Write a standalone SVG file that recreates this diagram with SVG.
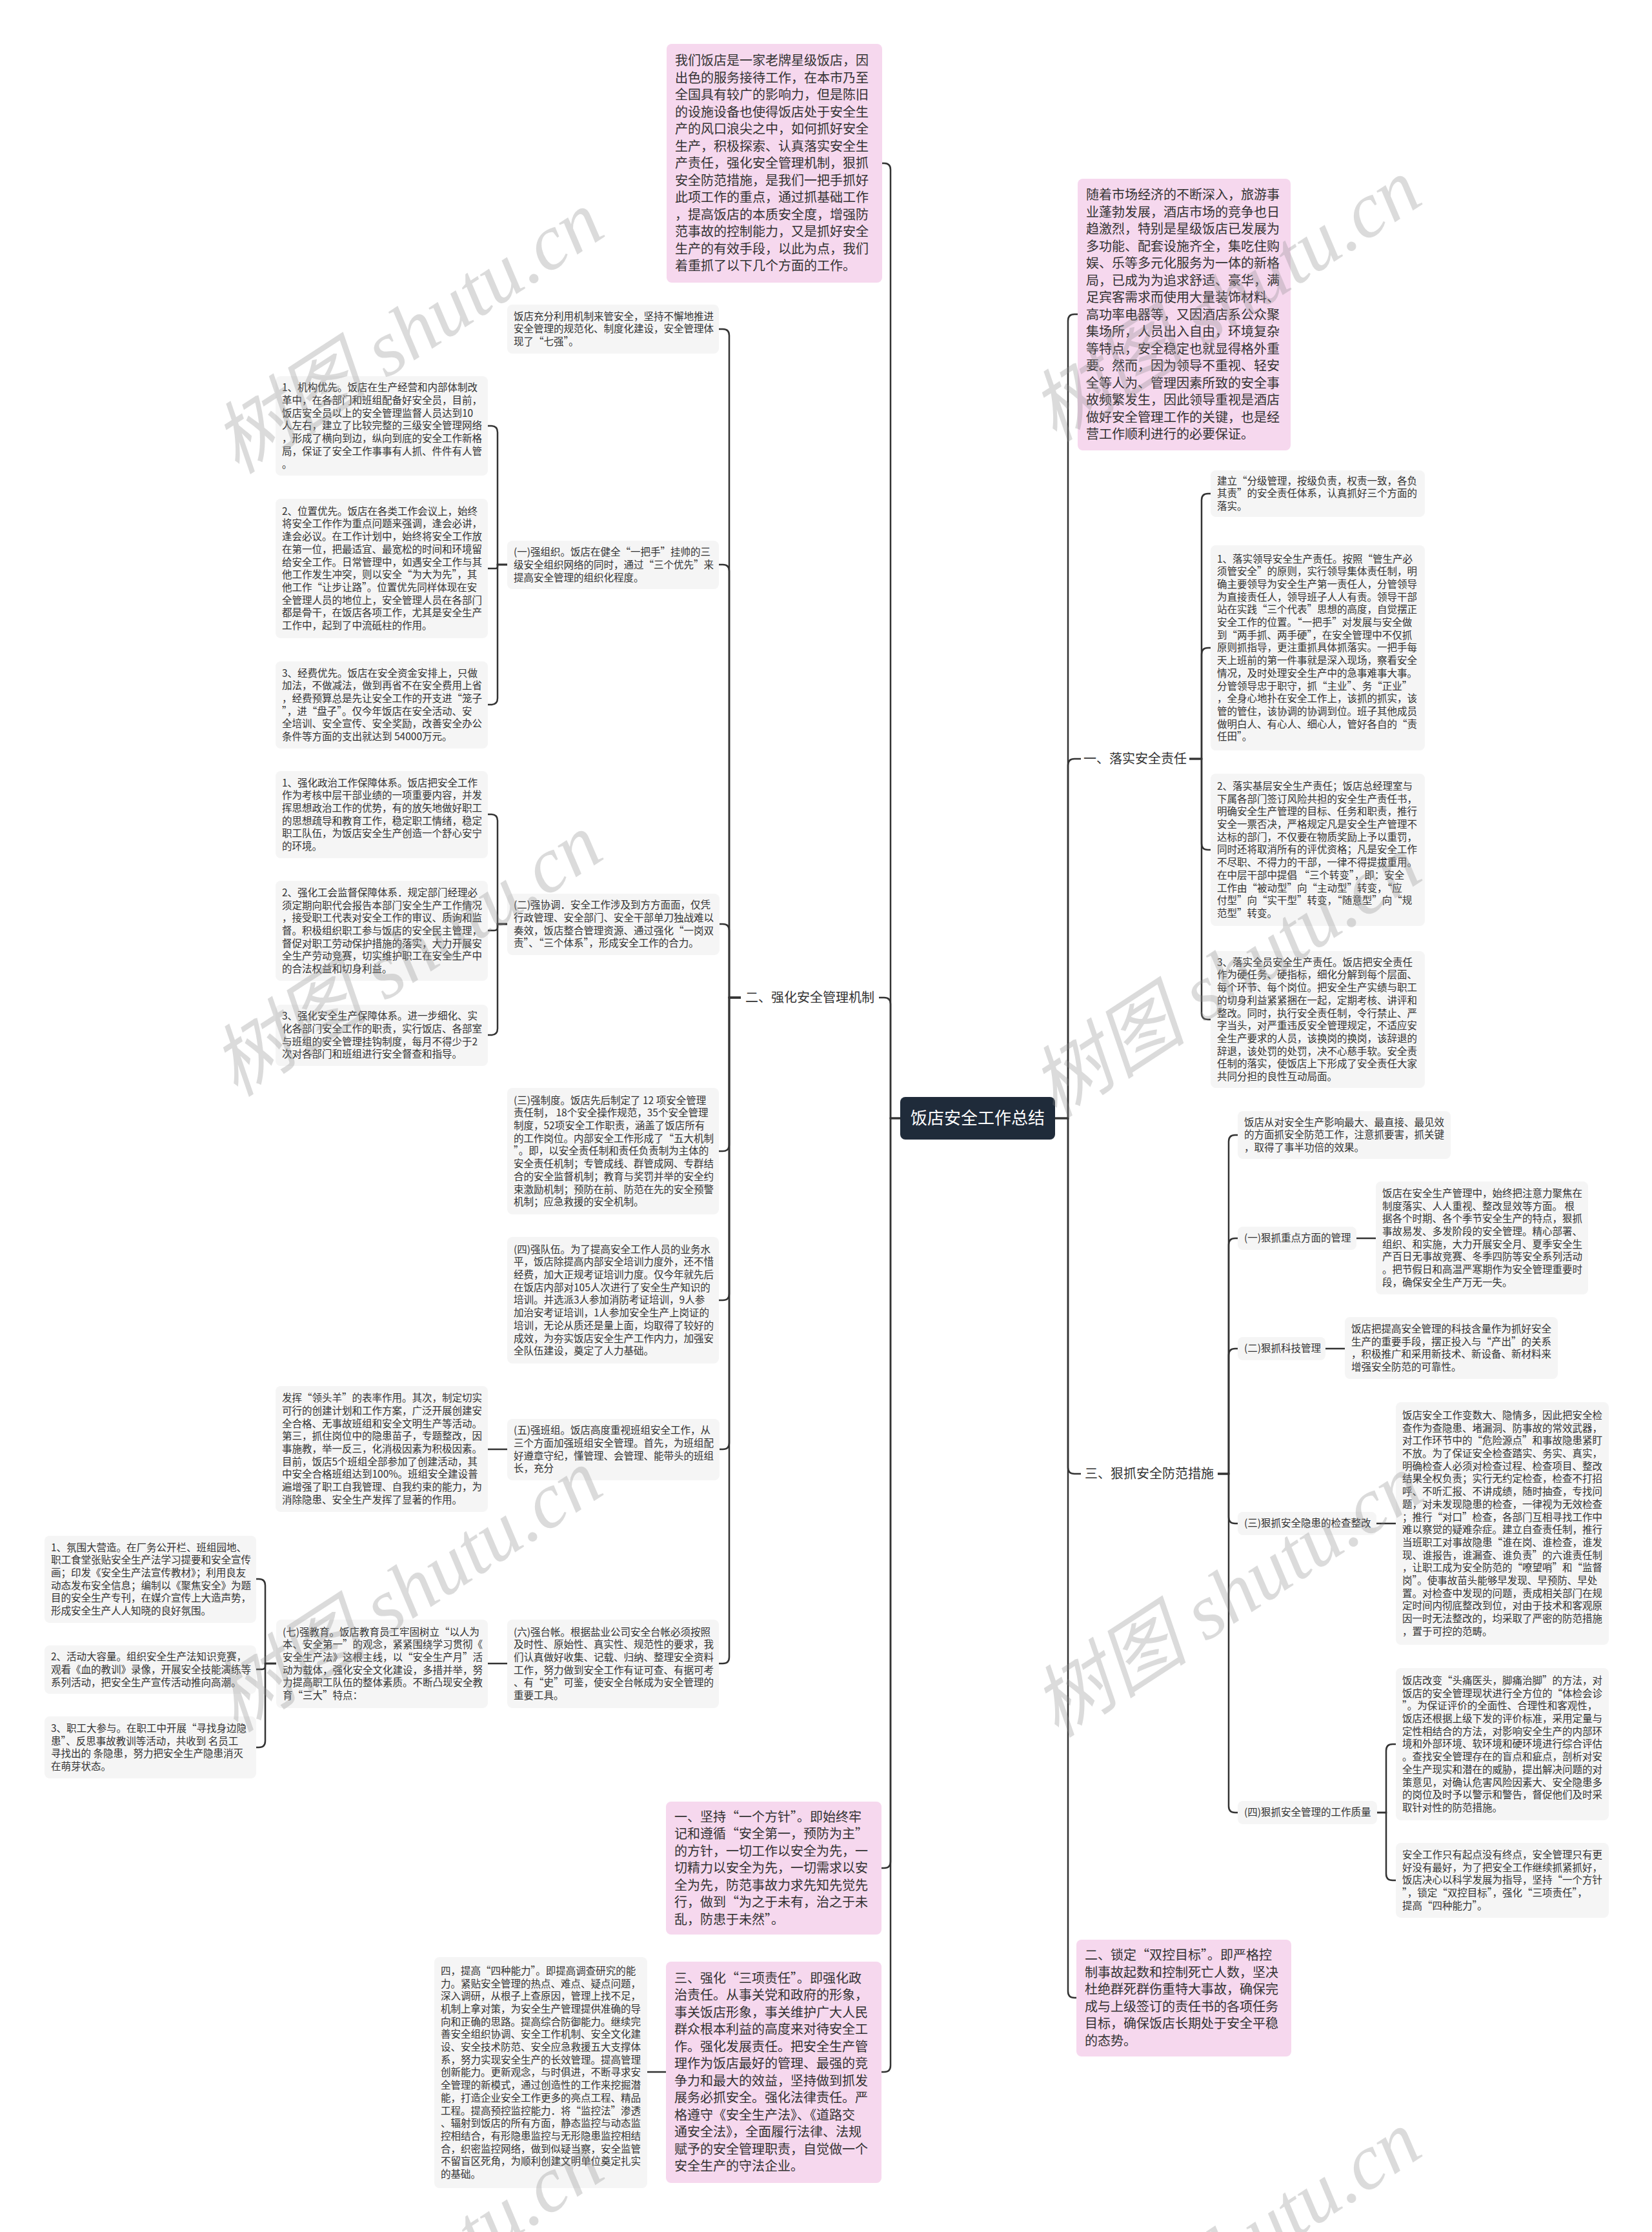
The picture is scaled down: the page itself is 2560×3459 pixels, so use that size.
<svg xmlns="http://www.w3.org/2000/svg" width="2560" height="3459" viewBox="0 0 2560 3459">
<style>
.bg{fill:#ffffff}
.g{fill:#f5f5f5}
.p{fill:#f6d8ee}
.c{fill:#1f2b3a}
.t{font-family:"Noto Sans CJK SC","Noto Sans",sans-serif;fill:#333333;font-size:15.5px}
.tp{font-family:"Noto Sans CJK SC","Noto Sans",sans-serif;fill:#333333;font-size:20px}
.tl{font-family:"Noto Sans CJK SC","Noto Sans",sans-serif;fill:#333333;font-size:20px}
.tc{font-family:"Noto Sans CJK SC","Noto Sans",sans-serif;fill:#ffffff;font-size:26px}
.conn path{fill:none;stroke:#333333;stroke-width:2.5}
.wm{font-family:"Liberation Serif","Noto Sans CJK SC",serif;font-size:122px;fill:#8c8c8c;opacity:0.3;font-style:italic}
</style>
<rect class="bg" x="0" y="0" width="2560" height="3459"/>

<g id="connectors" class="conn">
<path d="M1635,1733 H1655 V497 Q1655,487 1665,487 H1670"/>
<path d="M1635,1733 H1655 V1186 Q1655,1176 1665,1176 H1675"/>
<path d="M1635,1733 H1655 V2274 Q1655,2284 1665,2284 H1675"/>
<path d="M1635,1733 H1655 V3086 Q1655,3096 1665,3096 H1668"/>
<path d="M1843,1176 H1862 V775 Q1862,765 1872,765 H1876"/>
<path d="M1843,1176 H1862 V1014 Q1862,1004 1872,1004 H1876"/>
<path d="M1843,1176 H1862 V1307 Q1862,1317 1872,1317 H1876"/>
<path d="M1843,1176 H1862 V1570 Q1862,1580 1872,1580 H1876"/>
<path d="M1887,2284 H1904 V1769 Q1904,1759 1914,1759 H1918"/>
<path d="M1887,2284 H1904 V1929 Q1904,1919 1914,1919 H1918"/>
<path d="M1887,2284 H1904 V2100 Q1904,2090 1914,2090 H1918"/>
<path d="M1887,2284 H1904 V2351 Q1904,2361 1914,2361 H1918"/>
<path d="M1887,2284 H1904 V2799 Q1904,2809 1914,2809 H1918"/>
<path d="M2102,1919 H2132"/>
<path d="M2054,2090 H2084"/>
<path d="M2133,2361 H2163"/>
<path d="M2134,2809 H2148 V2713 Q2148,2703 2158,2703 H2163"/>
<path d="M2134,2809 H2148 V2904 Q2148,2914 2158,2914 H2163"/>
<path d="M1395,1733 H1380 V263 Q1380,253 1370,253 H1367"/>
<path d="M1395,1733 H1380 V1556 Q1380,1546 1370,1546 H1362"/>
<path d="M1395,1733 H1380 V2885 Q1380,2895 1370,2895 H1366"/>
<path d="M1395,1733 H1380 V3201 Q1380,3211 1370,3211 H1366"/>
<path d="M1148,1546 H1130 V520 Q1130,510 1120,510 H1114"/>
<path d="M1148,1546 H1130 V885 Q1130,875 1120,875 H1114"/>
<path d="M1148,1546 H1130 V1442 Q1130,1432 1120,1432 H1115"/>
<path d="M1148,1546 H1130 V1774 Q1130,1784 1120,1784 H1114"/>
<path d="M1148,1546 H1130 V2005 Q1130,2015 1120,2015 H1114"/>
<path d="M1148,1546 H1130 V2236 Q1130,2246 1120,2246 H1115"/>
<path d="M1148,1546 H1130 V2568 Q1130,2578 1120,2578 H1114"/>
<path d="M786,875 H771 V670 Q771,660 761,660 H756"/>
<path d="M786,875 H771 V878 Q771,881 768,881 H756"/>
<path d="M786,875 H771 V1082 Q771,1092 761,1092 H756"/>
<path d="M786,1432 H771 V1272 Q771,1262 761,1262 H756"/>
<path d="M786,1432 H771 V1437 Q771,1442 766,1442 H756"/>
<path d="M786,1432 H771 V1594 Q771,1604 761,1604 H756"/>
<path d="M786,2246 H756"/>
<path d="M786,2578 H756"/>
<path d="M428,2578 H411 V2457 Q411,2447 401,2447 H397"/>
<path d="M428,2578 H411 V2582 Q411,2587 406,2587 H397"/>
<path d="M428,2578 H411 V2698 Q411,2708 401,2708 H397"/>
<path d="M1032,3211 H1003"/>
</g>

<g id="center">
<rect class="c" x="1395" y="1700" width="240" height="66" rx="8"/>
<text class="tc" x="1515" y="1742" text-anchor="middle">饭店安全工作总结</text>
</g>

<g id="intro-left">
<rect class="p" x="1033" y="68" width="334" height="370" rx="8"/>
<text class="tp" x="1046" y="101"><tspan x="1046" dy="0">我们饭店是一家老牌星级饭店，因</tspan><tspan x="1046" dy="26.5">出色的服务接待工作，在本市乃至</tspan><tspan x="1046" dy="26.5">全国具有较广的影响力，但是陈旧</tspan><tspan x="1046" dy="26.5">的设施设备也使得饭店处于安全生</tspan><tspan x="1046" dy="26.5">产的风口浪尖之中，如何抓好安全</tspan><tspan x="1046" dy="26.5">生产，积极探索、认真落实安全生</tspan><tspan x="1046" dy="26.5">产责任，强化安全管理机制，狠抓</tspan><tspan x="1046" dy="26.5">安全防范措施，是我们一把手抓好</tspan><tspan x="1046" dy="26.5">此项工作的重点，通过抓基础工作</tspan><tspan x="1046" dy="26.5">，提高饭店的本质安全度，增强防</tspan><tspan x="1046" dy="26.5">范事故的控制能力，又是抓好安全</tspan><tspan x="1046" dy="26.5">生产的有效手段，以此为点，我们</tspan><tspan x="1046" dy="26.5">着重抓了以下几个方面的工作。</tspan></text>
</g>

<g id="intro-right">
<rect class="p" x="1670" y="277" width="330" height="421" rx="8"/>
<text class="tp" x="1683" y="309"><tspan x="1683" dy="0">随着市场经济的不断深入，旅游事</tspan><tspan x="1683" dy="26.5">业蓬勃发展，酒店市场的竞争也日</tspan><tspan x="1683" dy="26.5">趋激烈，特别是星级饭店已发展为</tspan><tspan x="1683" dy="26.5">多功能、配套设施齐全，集吃住购</tspan><tspan x="1683" dy="26.5">娱、乐等多元化服务为一体的新格</tspan><tspan x="1683" dy="26.5">局，已成为为追求舒适、豪华，满</tspan><tspan x="1683" dy="26.5">足宾客需求而使用大量装饰材料、</tspan><tspan x="1683" dy="26.5">高功率电器等，又因酒店系公众聚</tspan><tspan x="1683" dy="26.5">集场所，人员出入自由，环境复杂</tspan><tspan x="1683" dy="26.5">等特点，安全稳定也就显得格外重</tspan><tspan x="1683" dy="26.5">要。然而，因为领导不重视、轻安</tspan><tspan x="1683" dy="26.5">全等人为、管理因素所致的安全事</tspan><tspan x="1683" dy="26.5">故频繁发生，因此领导重视是酒店</tspan><tspan x="1683" dy="26.5">做好安全管理工作的关键，也是经</tspan><tspan x="1683" dy="26.5">营工作顺利进行的必要保证。</tspan></text>
</g>

<g id="branch-2">
<text class="tl" x="1255" y="1553" text-anchor="middle">二、强化安全管理机制</text>
</g>
<g id="branch-1">
<text class="tl" x="1759" y="1183" text-anchor="middle">一、落实安全责任</text>
</g>
<g id="branch-3">
<text class="tl" x="1781" y="2291" text-anchor="middle">三、狠抓安全防范措施</text>
</g>

<g id="m0">
<rect class="g" x="786" y="472" width="328" height="76" rx="8"/>
<text class="t" x="796" y="495.7"><tspan x="796" dy="0">饭店充分利用机制来管安全，坚持不懈地推进</tspan><tspan x="796" dy="19.7">安全管理的规范化、制度化建设，安全管理体</tspan><tspan x="796" dy="19.7">现了“七强”。</tspan></text>
</g>

<g id="m1">
<rect class="g" x="786" y="838" width="328" height="75" rx="8"/>
<text class="t" x="796" y="861.2"><tspan x="796" dy="0">(一)强组织。饭店在健全“一把手”挂帅的三</tspan><tspan x="796" dy="19.7">级安全组织网络的同时，通过“三个优先”来</tspan><tspan x="796" dy="19.7">提高安全管理的组织化程度。</tspan></text>
</g>

<g id="d1">
<rect class="g" x="427" y="583" width="329" height="154" rx="8"/>
<text class="t" x="437" y="606.3"><tspan x="437" dy="0">1、机构优先。饭店在生产经营和内部体制改</tspan><tspan x="437" dy="19.7">革中，在各部门和班组配备好安全员，目前，</tspan><tspan x="437" dy="19.7">饭店安全员以上的安全管理监督人员达到10</tspan><tspan x="437" dy="19.7">人左右，建立了比较完整的三级安全管理网络</tspan><tspan x="437" dy="19.7">，形成了横向到边，纵向到底的安全工作新格</tspan><tspan x="437" dy="19.7">局，保证了安全工作事事有人抓、件件有人管</tspan><tspan x="437" dy="19.7">。</tspan></text>
</g>

<g id="d2">
<rect class="g" x="427" y="773" width="329" height="216" rx="8"/>
<text class="t" x="437" y="797.75"><tspan x="437" dy="0">2、位置优先。饭店在各类工作会议上，始终</tspan><tspan x="437" dy="19.7">将安全工作作为重点问题来强调，逢会必讲，</tspan><tspan x="437" dy="19.7">逢会必议。在工作计划中，始终将安全工作放</tspan><tspan x="437" dy="19.7">在第一位，把最适宜、最宽松的时间和环境留</tspan><tspan x="437" dy="19.7">给安全工作。日常管理中，如遇安全工作与其</tspan><tspan x="437" dy="19.7">他工作发生冲突，则以安全“为大为先”，其</tspan><tspan x="437" dy="19.7">他工作“让步让路”。位置优先同样体现在安</tspan><tspan x="437" dy="19.7">全管理人员的地位上，安全管理人员在各部门</tspan><tspan x="437" dy="19.7">都是骨干，在饭店各项工作，尤其是安全生产</tspan><tspan x="437" dy="19.7">工作中，起到了中流砥柱的作用。</tspan></text>
</g>

<g id="d3">
<rect class="g" x="427" y="1025" width="329" height="135" rx="8"/>
<text class="t" x="437" y="1048.65"><tspan x="437" dy="0">3、经费优先。饭店在安全资金安排上，只做</tspan><tspan x="437" dy="19.7">加法，不做减法，做到再省不在安全费用上省</tspan><tspan x="437" dy="19.7">，经费预算总是先让安全工作的开支进“笼子</tspan><tspan x="437" dy="19.7">”，进“盘子”。仅今年饭店在安全活动、安</tspan><tspan x="437" dy="19.7">全培训、安全宣传、安全奖励，改善安全办公</tspan><tspan x="437" dy="19.7">条件等方面的支出就达到 54000万元。</tspan></text>
</g>

<g id="m2">
<rect class="g" x="786" y="1385" width="329" height="95" rx="8"/>
<text class="t" x="796" y="1408.35"><tspan x="796" dy="0">(二)强协调．安全工作涉及到方方面面，仅凭</tspan><tspan x="796" dy="19.7">行政管理、安全部门、安全干部单刀独战难以</tspan><tspan x="796" dy="19.7">奏效，饭店整合管理资源、通过强化“一岗双</tspan><tspan x="796" dy="19.7">责”、“三个体系”，形成安全工作的合力。</tspan></text>
</g>

<g id="h1">
<rect class="g" x="427" y="1195" width="329" height="135" rx="8"/>
<text class="t" x="437" y="1218.65"><tspan x="437" dy="0">1、强化政治工作保障体系。饭店把安全工作</tspan><tspan x="437" dy="19.7">作为考核中层干部业绩的一项重要内容，并发</tspan><tspan x="437" dy="19.7">挥思想政治工作的优势，有的放矢地做好职工</tspan><tspan x="437" dy="19.7">的思想疏导和教育工作，稳定职工情绪，稳定</tspan><tspan x="437" dy="19.7">职工队伍，为饭店安全生产创造一个舒心安宁</tspan><tspan x="437" dy="19.7">的环境。</tspan></text>
</g>

<g id="h2">
<rect class="g" x="427" y="1365" width="329" height="155" rx="8"/>
<text class="t" x="437" y="1388.8"><tspan x="437" dy="0">2、强化工会监督保障体系．规定部门经理必</tspan><tspan x="437" dy="19.7">须定期向职代会报告本部门安全生产工作情况</tspan><tspan x="437" dy="19.7">，接受职工代表对安全工作的审议、质询和监</tspan><tspan x="437" dy="19.7">督。积极组织职工参与饭店的安全民主管理，</tspan><tspan x="437" dy="19.7">督促对职工劳动保护措施的落实，大力开展安</tspan><tspan x="437" dy="19.7">全生产劳动竞赛，切实维护职工在安全生产中</tspan><tspan x="437" dy="19.7">的合法权益和切身利益。</tspan></text>
</g>

<g id="h3">
<rect class="g" x="427" y="1557" width="329" height="95" rx="8"/>
<text class="t" x="437" y="1580.35"><tspan x="437" dy="0">3、强化安全生产保障体系。进一步细化、实</tspan><tspan x="437" dy="19.7">化各部门安全工作的职责，实行饭店、各部室</tspan><tspan x="437" dy="19.7">与班组的安全管理挂钩制度，每月不得少于2</tspan><tspan x="437" dy="19.7">次对各部门和班组进行安全督查和指导。</tspan></text>
</g>

<g id="m3">
<rect class="g" x="786" y="1686" width="328" height="196" rx="8"/>
<text class="t" x="796" y="1710.6"><tspan x="796" dy="0">(三)强制度。饭店先后制定了 12 项安全管理</tspan><tspan x="796" dy="19.7">责任制， 18个安全操作规范，35个安全管理</tspan><tspan x="796" dy="19.7">制度，52项安全工作职责，涵盖了饭店所有</tspan><tspan x="796" dy="19.7">的工作岗位。内部安全工作形成了“五大机制</tspan><tspan x="796" dy="19.7">”。即，以安全责任制和责任负责制为主体的</tspan><tspan x="796" dy="19.7">安全责任机制；专管成线、群管成网、专群结</tspan><tspan x="796" dy="19.7">合的安全监督机制；教育与奖罚并举的安全约</tspan><tspan x="796" dy="19.7">束激励机制；预防在前、防范在先的安全预警</tspan><tspan x="796" dy="19.7">机制；应急救援的安全机制。</tspan></text>
</g>

<g id="m4">
<rect class="g" x="786" y="1917" width="328" height="196" rx="8"/>
<text class="t" x="796" y="1941.6"><tspan x="796" dy="0">(四)强队伍。为了提高安全工作人员的业务水</tspan><tspan x="796" dy="19.7">平，饭店除提高内部安全培训力度外，还不惜</tspan><tspan x="796" dy="19.7">经费，加大正规考证培训力度。仅今年就先后</tspan><tspan x="796" dy="19.7">在饭店内部对105人次进行了安全生产知识的</tspan><tspan x="796" dy="19.7">培训。并选派3人参加消防考证培训，9人参</tspan><tspan x="796" dy="19.7">加治安考证培训，1人参加安全生产上岗证的</tspan><tspan x="796" dy="19.7">培训，无论从质还是量上面，均取得了较好的</tspan><tspan x="796" dy="19.7">成效，为夯实饭店安全生产工作内力，加强安</tspan><tspan x="796" dy="19.7">全队伍建设，奠定了人力基础。</tspan></text>
</g>

<g id="m5">
<rect class="g" x="786" y="2199" width="329" height="95" rx="8"/>
<text class="t" x="796" y="2222.35"><tspan x="796" dy="0">(五)强班组。饭店高度重视班组安全工作，从</tspan><tspan x="796" dy="19.7">三个方面加强班组安全管理。首先，为班组配</tspan><tspan x="796" dy="19.7">好遵章守纪，懂管理、会管理、能带头的班组</tspan><tspan x="796" dy="19.7">长，充分</tspan></text>
</g>

<g id="k1">
<rect class="g" x="427" y="2148" width="329" height="195" rx="8"/>
<text class="t" x="437" y="2172.1"><tspan x="437" dy="0">发挥“领头羊”的表率作用。其次，制定切实</tspan><tspan x="437" dy="19.7">可行的创建计划和工作方案，广泛开展创建安</tspan><tspan x="437" dy="19.7">全合格、无事故班组和安全文明生产等活动。</tspan><tspan x="437" dy="19.7">第三，抓住岗位中的隐患苗子，专题整改，因</tspan><tspan x="437" dy="19.7">事施教，举一反三，化消极因素为积极因素。</tspan><tspan x="437" dy="19.7">目前，饭店5个班组全部参加了创建活动，其</tspan><tspan x="437" dy="19.7">中安全合格班组达到100%。班组安全建设普</tspan><tspan x="437" dy="19.7">遍增强了职工自我管理、自我约束的能力，为</tspan><tspan x="437" dy="19.7">消除隐患、安全生产发挥了显著的作用。</tspan></text>
</g>

<g id="m6">
<rect class="g" x="786" y="2510" width="328" height="137" rx="8"/>
<text class="t" x="796" y="2534.65"><tspan x="796" dy="0">(六)强台帐。根据盐业公司安全台帐必须按照</tspan><tspan x="796" dy="19.7">及时性、原始性、真实性、规范性的要求，我</tspan><tspan x="796" dy="19.7">们认真做好收集、记载、归纳、整理安全资料</tspan><tspan x="796" dy="19.7">工作，努力做到安全工作有证可查、有据可考</tspan><tspan x="796" dy="19.7">、有“史”可鉴，使安全台帐成为安全管理的</tspan><tspan x="796" dy="19.7">重要工具。</tspan></text>
</g>

<g id="m7">
<rect class="g" x="428" y="2510" width="328" height="137" rx="8"/>
<text class="t" x="438" y="2534.65"><tspan x="438" dy="0">(七)强教育。饭店教育员工牢固树立“以人为</tspan><tspan x="438" dy="19.7">本、安全第一”的观念，紧紧围绕学习贯彻《</tspan><tspan x="438" dy="19.7">安全生产法》这根主线，以“安全生产月”活</tspan><tspan x="438" dy="19.7">动为载体，强化安全文化建设，多措并举，努</tspan><tspan x="438" dy="19.7">力提高职工队伍的整体素质。不断凸现安全教</tspan><tspan x="438" dy="19.7">育“三大”特点：</tspan></text>
</g>

<g id="e1">
<rect class="g" x="69" y="2380" width="328" height="135" rx="8"/>
<text class="t" x="79" y="2403.65"><tspan x="79" dy="0">1、氛围大营造。在厂务公开栏、班组园地、</tspan><tspan x="79" dy="19.7">职工食堂张贴安全生产法学习提要和安全宣传</tspan><tspan x="79" dy="19.7">画；印发《安全生产法宣传教材》；利用良友</tspan><tspan x="79" dy="19.7">动态发布安全信息；编制以《聚焦安全》为题</tspan><tspan x="79" dy="19.7">目的安全生产专刊，在媒介宣传上大造声势，</tspan><tspan x="79" dy="19.7">形成安全生产人人知晓的良好氛围。</tspan></text>
</g>

<g id="e2">
<rect class="g" x="69" y="2550" width="328" height="75" rx="8"/>
<text class="t" x="79" y="2573.2"><tspan x="79" dy="0">2、活动大容量。组织安全生产法知识竞赛，</tspan><tspan x="79" dy="19.7">观看《血的教训》录像，开展安全技能演练等</tspan><tspan x="79" dy="19.7">系列活动，把安全生产宣传活动推向高潮。</tspan></text>
</g>

<g id="e3">
<rect class="g" x="69" y="2660" width="328" height="96" rx="8"/>
<text class="t" x="79" y="2683.85"><tspan x="79" dy="0">3、职工大参与。在职工中开展“寻找身边隐</tspan><tspan x="79" dy="19.7">患”、反思事故教训等活动，共收到  名员工</tspan><tspan x="79" dy="19.7">寻找出的  条隐患，努力把安全生产隐患消灭</tspan><tspan x="79" dy="19.7">在萌芽状态。</tspan></text>
</g>

<g id="principle-1">
<rect class="p" x="1032" y="2792" width="334" height="206" rx="8"/>
<text class="tp" x="1045" y="2822.5"><tspan x="1045" dy="0">一、坚持“一个方针”。即始终牢</tspan><tspan x="1045" dy="26.5">记和遵循“安全第一，预防为主”</tspan><tspan x="1045" dy="26.5">的方针，一切工作以安全为先，一</tspan><tspan x="1045" dy="26.5">切精力以安全为先，一切需求以安</tspan><tspan x="1045" dy="26.5">全为先，防范事故力求先知先觉先</tspan><tspan x="1045" dy="26.5">行，做到“为之于未有，治之于未</tspan><tspan x="1045" dy="26.5">乱，防患于未然”。</tspan></text>
</g>

<g id="principle-3">
<rect class="p" x="1032" y="3040" width="334" height="343" rx="8"/>
<text class="tp" x="1045" y="3072.75"><tspan x="1045" dy="0">三、强化“三项责任”。即强化政</tspan><tspan x="1045" dy="26.5">治责任。从事关党和政府的形象，</tspan><tspan x="1045" dy="26.5">事关饭店形象，事关维护广大人民</tspan><tspan x="1045" dy="26.5">群众根本利益的高度来对待安全工</tspan><tspan x="1045" dy="26.5">作。强化发展责任。把安全生产管</tspan><tspan x="1045" dy="26.5">理作为饭店最好的管理、最强的竞</tspan><tspan x="1045" dy="26.5">争力和最大的效益，坚持做到抓发</tspan><tspan x="1045" dy="26.5">展务必抓安全。强化法律责任。严</tspan><tspan x="1045" dy="26.5">格遵守《安全生产法》、《道路交</tspan><tspan x="1045" dy="26.5">通安全法》，全面履行法律、法规</tspan><tspan x="1045" dy="26.5">赋予的安全管理职责，自觉做一个</tspan><tspan x="1045" dy="26.5">安全生产的守法企业。</tspan></text>
</g>

<g id="principle-4">
<rect class="g" x="673" y="3033" width="330" height="358" rx="8"/>
<text class="t" x="683" y="3059.8"><tspan x="683" dy="0">四，提高“四种能力”。即提高调查研究的能</tspan><tspan x="683" dy="19.7">力。紧贴安全管理的热点、难点、疑点问题，</tspan><tspan x="683" dy="19.7">深入调研，从根子上查原因，管理上找不足，</tspan><tspan x="683" dy="19.7">机制上拿对策，为安全生产管理提供准确的导</tspan><tspan x="683" dy="19.7">向和正确的思路。提高综合防御能力。继续完</tspan><tspan x="683" dy="19.7">善安全组织协调、安全工作机制、安全文化建</tspan><tspan x="683" dy="19.7">设、安全技术防范、安全应急救援五大支撑体</tspan><tspan x="683" dy="19.7">系，努力实现安全生产的长效管理。提高管理</tspan><tspan x="683" dy="19.7">创新能力。更新观念，与时俱进，不断寻求安</tspan><tspan x="683" dy="19.7">全管理的新模式，通过创造性的工作来挖掘潜</tspan><tspan x="683" dy="19.7">能，打造企业安全工作更多的亮点工程、精品</tspan><tspan x="683" dy="19.7">工程。提高预控监控能力．将“监控法”渗透</tspan><tspan x="683" dy="19.7">、辐射到饭店的所有方面，静态监控与动态监</tspan><tspan x="683" dy="19.7">控相结合，有形隐患监控与无形隐患监控相结</tspan><tspan x="683" dy="19.7">合，织密监控网络，做到似疑当察，安全监管</tspan><tspan x="683" dy="19.7">不留盲区死角，为顺利创建文明单位奠定扎实</tspan><tspan x="683" dy="19.7">的基础。</tspan></text>
</g>

<g id="p1">
<rect class="g" x="1876" y="729" width="332" height="72" rx="8"/>
<text class="t" x="1886" y="750.7"><tspan x="1886" dy="0">建立“分级管理，按级负责，权责一致，各负</tspan><tspan x="1886" dy="19.7">其责”的安全责任体系，认真抓好三个方面的</tspan><tspan x="1886" dy="19.7">落实。</tspan></text>
</g>

<g id="p2">
<rect class="g" x="1876" y="845" width="332" height="318" rx="8"/>
<text class="t" x="1886" y="871.5"><tspan x="1886" dy="0">1、落实领导安全生产责任。按照“管生产必</tspan><tspan x="1886" dy="19.7">须管安全”的原则，实行领导集体责任制，明</tspan><tspan x="1886" dy="19.7">确主要领导为安全生产第一责任人，分管领导</tspan><tspan x="1886" dy="19.7">为直接责任人，领导班子人人有责。领导干部</tspan><tspan x="1886" dy="19.7">站在实践“三个代表”思想的高度，自觉摆正</tspan><tspan x="1886" dy="19.7">安全工作的位置。“一把手”对发展与安全做</tspan><tspan x="1886" dy="19.7">到“两手抓、两手硬”，在安全管理中不仅抓</tspan><tspan x="1886" dy="19.7">原则抓指导，更注重抓具体抓落实。一把手每</tspan><tspan x="1886" dy="19.7">天上班前的第一件事就是深入现场，察看安全</tspan><tspan x="1886" dy="19.7">情况，及时处理安全生产中的急事难事大事。</tspan><tspan x="1886" dy="19.7">分管领导忠于职守，抓“主业”、务“正业”</tspan><tspan x="1886" dy="19.7">，全身心地扑在安全工作上，该抓的抓实，该</tspan><tspan x="1886" dy="19.7">管的管住，该协调的协调到位。班子其他成员</tspan><tspan x="1886" dy="19.7">做明白人、有心人、细心人，管好各自的“责</tspan><tspan x="1886" dy="19.7">任田”。</tspan></text>
</g>

<g id="p3">
<rect class="g" x="1876" y="1199" width="332" height="236" rx="8"/>
<text class="t" x="1886" y="1223.9"><tspan x="1886" dy="0">2、落实基层安全生产责任；饭店总经理室与</tspan><tspan x="1886" dy="19.7">下属各部门签订风险共担的安全生产责任书，</tspan><tspan x="1886" dy="19.7">明确安全生产管理的目标、任务和职责，推行</tspan><tspan x="1886" dy="19.7">安全一票否决，严格规定凡是安全生产管理不</tspan><tspan x="1886" dy="19.7">达标的部门，不仅要在物质奖励上予以重罚，</tspan><tspan x="1886" dy="19.7">同时还将取消所有的评优资格；凡是安全工作</tspan><tspan x="1886" dy="19.7">不尽职、不得力的干部，一律不得提拔重用。</tspan><tspan x="1886" dy="19.7">在中层干部中提倡 “三个转变”，即：安全</tspan><tspan x="1886" dy="19.7">工作由“被动型”向“主动型”转变，“应</tspan><tspan x="1886" dy="19.7">付型”向“实干型”转变，“随意型”向“规</tspan><tspan x="1886" dy="19.7">范型”转变。</tspan></text>
</g>

<g id="p4">
<rect class="g" x="1876" y="1474" width="332" height="212" rx="8"/>
<text class="t" x="1886" y="1496.75"><tspan x="1886" dy="0">3、落实全员安全生产责任。饭店把安全责任</tspan><tspan x="1886" dy="19.7">作为硬任务、硬指标，细化分解到每个层面、</tspan><tspan x="1886" dy="19.7">每个环节、每个岗位。把安全生产实绩与职工</tspan><tspan x="1886" dy="19.7">的切身利益紧紧捆在一起，定期考核、讲评和</tspan><tspan x="1886" dy="19.7">整改。同时，执行安全责任制，令行禁止、严</tspan><tspan x="1886" dy="19.7">字当头，对严重违反安全管理规定，不适应安</tspan><tspan x="1886" dy="19.7">全生产要求的人员，该换岗的换岗，该辞退的</tspan><tspan x="1886" dy="19.7">辞退，该处罚的处罚，决不心慈手软。安全责</tspan><tspan x="1886" dy="19.7">任制的落实，使饭店上下形成了安全责任大家</tspan><tspan x="1886" dy="19.7">共同分担的良性互动局面。</tspan></text>
</g>

<g id="q0">
<rect class="g" x="1918" y="1722" width="330" height="74" rx="8"/>
<text class="t" x="1928" y="1744.7"><tspan x="1928" dy="0">饭店从对安全生产影响最大、最直接、最见效</tspan><tspan x="1928" dy="19.7">的方面抓安全防范工作，注意抓要害，抓关键</tspan><tspan x="1928" dy="19.7">，取得了事半功倍的效果。</tspan></text>
</g>

<g id="q1">
<rect class="g" x="1918" y="1901" width="184" height="36" rx="8"/>
<text class="t" x="1928" y="1924.4">(一)狠抓重点方面的管理</text>
</g>
<g id="q1a">
<rect class="g" x="2132" y="1831" width="329" height="175" rx="8"/>
<text class="t" x="2142" y="1854.95"><tspan x="2142" dy="0">饭店在安全生产管理中，始终把注意力聚焦在</tspan><tspan x="2142" dy="19.7">制度落实、人人重视、整改显效等方面。 根</tspan><tspan x="2142" dy="19.7">据各个时期、各个季节安全生产的特点，狠抓</tspan><tspan x="2142" dy="19.7">事故易发、多发阶段的安全管理。精心部署、</tspan><tspan x="2142" dy="19.7">组织、和实施，大力开展安全月、夏季安全生</tspan><tspan x="2142" dy="19.7">产百日无事故竞赛、冬季四防等安全系列活动</tspan><tspan x="2142" dy="19.7">。把节假日和高温严寒期作为安全管理重要时</tspan><tspan x="2142" dy="19.7">段，确保安全生产万无一失。</tspan></text>
</g>

<g id="q2">
<rect class="g" x="1918" y="2072" width="136" height="36" rx="8"/>
<text class="t" x="1928" y="2095.4">(二)狠抓科技管理</text>
</g>
<g id="q2a">
<rect class="g" x="2084" y="2041" width="330" height="96" rx="8"/>
<text class="t" x="2094" y="2064.85"><tspan x="2094" dy="0">饭店把提高安全管理的科技含量作为抓好安全</tspan><tspan x="2094" dy="19.7">生产的重要手段，摆正投入与“产出”的关系</tspan><tspan x="2094" dy="19.7">，积极推广和采用新技术、新设备、新材料来</tspan><tspan x="2094" dy="19.7">增强安全防范的可靠性。</tspan></text>
</g>

<g id="q3">
<rect class="g" x="1918" y="2343" width="215" height="36" rx="8"/>
<text class="t" x="1928" y="2366.4">(三)狠抓安全隐患的检查整改</text>
</g>
<g id="q3a">
<rect class="g" x="2163" y="2173" width="330" height="376" rx="8"/>
<text class="t" x="2173" y="2198.95"><tspan x="2173" dy="0">饭店安全工作变数大、隐情多，因此把安全检</tspan><tspan x="2173" dy="19.7">查作为查隐患、堵漏洞、防事故的常效武器，</tspan><tspan x="2173" dy="19.7">对工作环节中的“危险源点”和事故隐患紧盯</tspan><tspan x="2173" dy="19.7">不放。为了保证安全检查踏实、务实、真实，</tspan><tspan x="2173" dy="19.7">明确检查人必须对检查过程、检查项目、整改</tspan><tspan x="2173" dy="19.7">结果全权负责；实行无约定检查，检查不打招</tspan><tspan x="2173" dy="19.7">呼、不听汇报、不讲成绩，随时抽查，专找问</tspan><tspan x="2173" dy="19.7">题，对未发现隐患的检查，一律视为无效检查</tspan><tspan x="2173" dy="19.7">；推行“对口”检查，各部门互相寻找工作中</tspan><tspan x="2173" dy="19.7">难以察觉的疑难杂症。建立自查责任制，推行</tspan><tspan x="2173" dy="19.7">当班职工对事故隐患“谁在岗、谁检查，谁发</tspan><tspan x="2173" dy="19.7">现、谁报告，谁漏查、谁负责”的六谁责任制</tspan><tspan x="2173" dy="19.7">，让职工成为安全防范的“嘹望哨”和“监督</tspan><tspan x="2173" dy="19.7">岗”。使事故苗头能够早发现、早预防、早处</tspan><tspan x="2173" dy="19.7">置。对检查中发现的问题，责成相关部门在规</tspan><tspan x="2173" dy="19.7">定时间内彻底整改到位，对由于技术和客观原</tspan><tspan x="2173" dy="19.7">因一时无法整改的，均采取了严密的防范措施</tspan><tspan x="2173" dy="19.7">，置于可控的范畴。</tspan></text>
</g>

<g id="q4">
<rect class="g" x="1918" y="2791" width="216" height="36" rx="8"/>
<text class="t" x="1928" y="2814.4">(四)狠抓安全管理的工作质量</text>
</g>
<g id="q4a">
<rect class="g" x="2163" y="2585" width="330" height="236" rx="8"/>
<text class="t" x="2173" y="2609.9"><tspan x="2173" dy="0">饭店改变“头痛医头，脚痛治脚”的方法，对</tspan><tspan x="2173" dy="19.7">饭店的安全管理现状进行全方位的“体检会诊</tspan><tspan x="2173" dy="19.7">”。为保证评价的全面性、合理性和客观性，</tspan><tspan x="2173" dy="19.7">饭店还根据上级下发的评价标准，采用定量与</tspan><tspan x="2173" dy="19.7">定性相结合的方法，对影响安全生产的内部环</tspan><tspan x="2173" dy="19.7">境和外部环境、软环境和硬环境进行综合评估</tspan><tspan x="2173" dy="19.7">。查找安全管理存在的盲点和疵点，剖析对安</tspan><tspan x="2173" dy="19.7">全生产现实和潜在的威胁，提出解决问题的对</tspan><tspan x="2173" dy="19.7">策意见，对确认危害风险因素大、安全隐患多</tspan><tspan x="2173" dy="19.7">的岗位及时予以警示和警告，督促他们及时采</tspan><tspan x="2173" dy="19.7">取针对性的防范措施。</tspan></text>
</g>
<g id="q4b">
<rect class="g" x="2163" y="2856" width="330" height="116" rx="8"/>
<text class="t" x="2173" y="2880"><tspan x="2173" dy="0">安全工作只有起点没有终点，安全管理只有更</tspan><tspan x="2173" dy="19.7">好没有最好，为了把安全工作继续抓紧抓好，</tspan><tspan x="2173" dy="19.7">饭店决心以科学发展为指导，坚持“一个方针</tspan><tspan x="2173" dy="19.7">”，锁定“双控目标”，强化“三项责任”，</tspan><tspan x="2173" dy="19.7">提高“四种能力”。</tspan></text>
</g>

<g id="principle-2">
<rect class="p" x="1668" y="3006" width="333" height="181" rx="8"/>
<text class="tp" x="1681" y="3037.25"><tspan x="1681" dy="0">二、锁定“双控目标”。即严格控</tspan><tspan x="1681" dy="26.5">制事故起数和控制死亡人数，坚决</tspan><tspan x="1681" dy="26.5">杜绝群死群伤重特大事故，确保完</tspan><tspan x="1681" dy="26.5">成与上级签订的责任书的各项任务</tspan><tspan x="1681" dy="26.5">目标，确保饭店长期处于安全平稳</tspan><tspan x="1681" dy="26.5">的态势。</tspan></text>
</g>

<g id="watermarks">
<text class="wm" text-anchor="middle" transform="translate(655,550) rotate(-33)">树图 shutu.cn</text>
<text class="wm" text-anchor="middle" transform="translate(1922,500) rotate(-33)">树图 shutu.cn</text>
<text class="wm" text-anchor="middle" transform="translate(653,1515) rotate(-33)">树图 shutu.cn</text>
<text class="wm" text-anchor="middle" transform="translate(1922,1548) rotate(-33)">树图 shutu.cn</text>
<text class="wm" text-anchor="middle" transform="translate(653,2500) rotate(-33)">树图 shutu.cn</text>
<text class="wm" text-anchor="middle" transform="translate(1925,2508) rotate(-33)">树图 shutu.cn</text>
<text class="wm" text-anchor="middle" transform="translate(655,3560) rotate(-33)">树图 shutu.cn</text>
<text class="wm" text-anchor="middle" transform="translate(1922,3525) rotate(-33)">树图 shutu.cn</text>
</g>
</svg>
